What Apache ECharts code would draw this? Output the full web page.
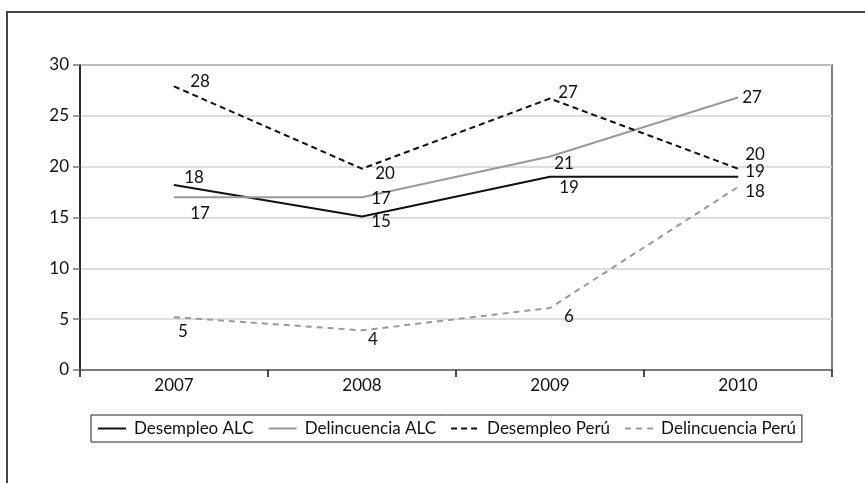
<!DOCTYPE html>
<html>
<head>
<meta charset="utf-8">
<script src="https://cdn.jsdelivr.net/npm/echarts@6/dist/echarts.min.js"></script>
<style>
html,body{margin:0;padding:0;background:#fff;}
#chart{width:865px;height:483px;}
</style>
</head>
<body>
<div id="chart"></div>
<script>
const categories = ['2007', '2008', '2009', '2010'];
const desempleoALC = [18.2, 15.1, 19.0, 19.0];
const delincuenciaALC = [17.0, 17.0, 21.0, 26.8];
const desempleoPeru = [27.9, 19.8, 26.7, 19.8];
const delincuenciaPeru = [5.2, 3.9, 6.1, 18.0];
const yTicks = [0, 5, 10, 15, 20, 25, 30];

// label offsets (styling only)
const offsDALC = [[20, -7], [19, 5], [19, 11], [17, -5]];
const offsLALC = [[26, 16], [19, 1], [14, 7], [14, 0]];
const offsDP = [[26, -5], [23, 5], [18, -6], [17, -14]];
const offsLP = [[9, 14], [11, 9], [19, 9], [17, 5]];

const FONT = 'Lato';
const FS = 17;
const chart = echarts.init(document.getElementById('chart'));

function mk(name, vals, offs, color, type) {
  return {
    name: name,
    type: 'line',
    data: vals.map((v, i) => ({ value: v, label: { offset: offs[i] } })),
    symbol: 'circle',
    symbolSize: 1,
    showSymbol: true,
    itemStyle: { color: color },
    lineStyle: { color: color, width: 2, type: type },
    label: {
      show: true,
      position: 'inside',
      formatter: p => String(Math.round(p.value)),
      color: '#111',
      fontFamily: FONT,
      fontSize: FS
    },
    emphasis: { disabled: true },
    animation: false
  };
}

chart.setOption({
  animation: false,
  textStyle: { fontFamily: FONT },
  grid: { left: 80, top: 65, right: 33, bottom: 113, show: true, borderColor: '#555', borderWidth: 1.5 },
  graphic: [
    { type: 'polyline', shape: { points: [[7, 483], [7, 12], [865, 12]] }, style: { stroke: '#444', lineWidth: 2, fill: null }, silent: true }
  ],
  legend: {
    left: 91, top: 415,
    width: 760,
    padding: [5, 6, 5, 6],
    borderColor: '#222', borderWidth: 1,
    itemWidth: 28, itemHeight: 12, itemGap: 14,
    itemStyle: { opacity: 0 },
    textStyle: { fontFamily: FONT, fontSize: FS, color: '#111', padding: [0, 0, 0, 3] },
    data: ['Desempleo ALC', 'Delincuencia ALC', 'Desempleo Perú', 'Delincuencia Perú']
  },
  xAxis: {
    type: 'category',
    data: categories,
    boundaryGap: true,
    axisLine: { lineStyle: { color: '#666', width: 1.5 } },
    axisTick: { show: true, length: 7, inside: false, lineStyle: { color: '#111', width: 1.5 } },
    axisLabel: { color: '#111', fontSize: FS, fontFamily: FONT, margin: 7 },
    splitLine: { show: false }
  },
  yAxis: {
    type: 'value',
    min: 0, max: 30, interval: 5,
    axisLine: { show: true, lineStyle: { color: '#111', width: 1.5 } },
    axisTick: { show: true, length: 7, lineStyle: { color: '#777', width: 1.5 } },
    axisLabel: { color: '#111', fontSize: FS, fontFamily: FONT, margin: 11,
      formatter: v => yTicks.includes(v) ? String(v) : '' },
    splitLine: { show: true, lineStyle: { color: '#d2d2d2', width: 1.5 } }
  },
  series: [
    mk('Desempleo ALC', desempleoALC, offsDALC, '#111111', 'solid'),
    mk('Delincuencia ALC', delincuenciaALC, offsLALC, '#999999', 'solid'),
    mk('Desempleo Perú', desempleoPeru, offsDP, '#111111', [6, 4]),
    mk('Delincuencia Perú', delincuenciaPeru, offsLP, '#999999', [6, 5])
  ]
});
</script>
</body>
</html>
